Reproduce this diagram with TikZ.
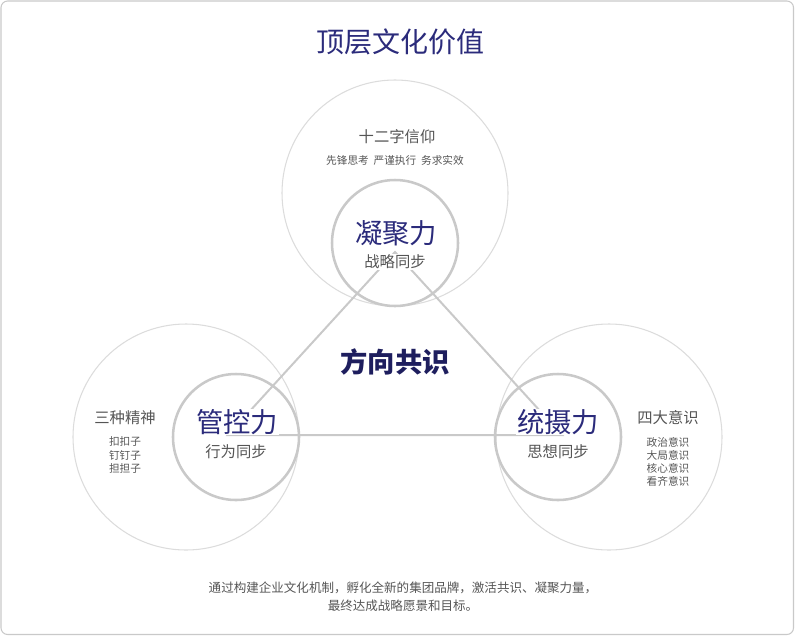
\documentclass[tikz,border=0pt]{standalone}
\usepackage{fontspec}
\setmainfont{Noto Sans CJK SC}
\usetikzlibrary{calc}
\definecolor{titleblue}{HTML}{2B2B7B}
\definecolor{deepblue}{HTML}{1E1E5E}
\definecolor{textgray}{HTML}{555555}
\definecolor{ringgray}{HTML}{DCDCDC}
\definecolor{linegray}{HTML}{C9C9C9}

\begin{document}
\begin{tikzpicture}[x=0.75pt, y=-0.75pt,
  bigring/.style = {draw=ringgray, line width=0.8pt},
  smallring/.style = {draw=linegray, line width=1.9pt},
  link/.style = {draw=linegray, line width=1.5pt},
  bigname/.style = {text=titleblue, fill=white, inner sep=0.5pt, font=\fontsize{20.5}{22}\selectfont},
  subname/.style = {text=textgray, fill=white, inner sep=0.5pt, font=\fontsize{11.5}{13}\selectfont},
  headname/.style = {text=textgray, font=\fontsize{11.5}{13}\selectfont},
  smalltext/.style = {text=textgray, align=center, font=\fontsize{8}{9.9}\selectfont}]
\useasboundingbox (0,0) rectangle (795,636);
\draw [draw=linegray, line width=0.8pt, rounded corners=5pt] (1,1) rectangle (793.5,634.5);

% outer rings
\draw [bigring] (395,193) circle [radius=113];
\draw [bigring] (186,437) circle [radius=113];
\draw [bigring] (609,437) circle [radius=113];

% triangle
\coordinate (top) at (395,252);
\coordinate (left) at (228,435);
\coordinate (right) at (562,435);
\draw [link] (left) -- (top) -- (right) -- cycle;

% inner rings
\draw [smallring] (395,243) circle [radius=63];
\draw [smallring] (236,437) circle [radius=63];
\draw [smallring] (558,437) circle [radius=63];

\node [text=titleblue, font=\fontsize{21}{23}\selectfont] (title) at (400,42) {顶层文化价值};

\node [headname] (xinyang) at (397,137) {十二字信仰};
\node [smalltext] (xinyangsub) at (395,160) {先锋思考\hspace{0.45em}严谨执行\hspace{0.45em}务求实效};
\node [bigname] (ningju) at (396,233) {凝聚力};
\node [subname] (zhanlue) at (395,262) {战略同步};

\node [text=deepblue, font=\bfseries\fontsize{20.5}{22}\selectfont] (gongshi) at (395,362) {方向共识};

\node [headname] (jingshen) at (125,418) {三种精神};
\node [smalltext] (jingshensub) at (125,455) {扣扣子\\钉钉子\\担担子};
\node [bigname] (guankong) at (237,422) {管控力};
\node [subname] (xingwei) at (236,452) {行为同步};

\node [headname] (yishi) at (668,418) {四大意识};
\node [smalltext] (yishisub) at (668,462) {政治意识\\大局意识\\核心意识\\看齐意识};
\node [bigname] (tongshe) at (558,422) {统摄力};
\node [subname] (sixiang) at (558,452) {思想同步};

\node [text=textgray, align=center, font=\fontsize{9.4}{13.5}\selectfont] (note) at (403,597)
  {通过构建企业文化机制，孵化全新的集团品牌，激活共识、凝聚力量，\\最终达成战略愿景和目标。};
\end{tikzpicture}
\end{document}
